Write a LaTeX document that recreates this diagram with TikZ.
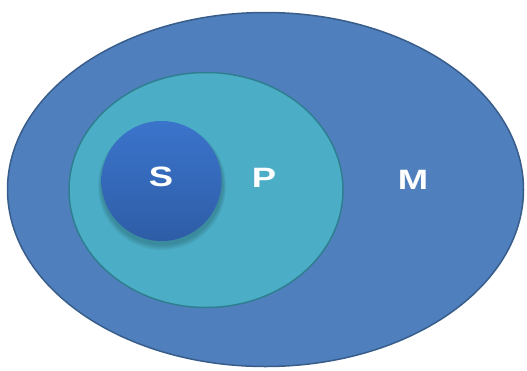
\documentclass[tikz,border=0pt]{standalone}
\usepackage{fontspec}
\setmainfont{Liberation Sans}
\usetikzlibrary{shapes.geometric}
\definecolor{outerfill}{HTML}{4F7FBD}
\definecolor{outerdraw}{HTML}{385D8A}
\definecolor{midfill}{HTML}{4BADC6}
\definecolor{middraw}{HTML}{2F7F90}
\definecolor{stop}{HTML}{3B74CC}
\definecolor{sbot}{HTML}{2E5DA6}
\tikzset{
  lbl/.style={text=white, font=\bfseries\fontsize{28}{28}\selectfont, xscale=1.3, inner sep=0pt},
  shad/.style={fill=black, opacity=0.05},
}
\begin{document}
\begin{tikzpicture}[x=1pt,y=-1pt]
\useasboundingbox[fill=white] (0,0) rectangle (527,370);
\node[ellipse, minimum width=516pt, minimum height=354pt, fill=outerfill, draw=outerdraw, line width=1.5pt, inner sep=0pt] (M) at (265.5,189.5) {};
\node[ellipse, minimum width=274pt, minimum height=235pt, fill=midfill, draw=middraw, line width=1.5pt, inner sep=0pt] (P) at (206,190) {};
\foreach \r/\dy in {64/5, 63/4.5, 62/4, 61/3.5} {
  \fill[shad] (162,181+\dy) circle (\r);
}
\node[circle, minimum size=120pt, inner sep=0pt, top color=stop, bottom color=sbot] (S) at (161.5,181) {};
\node[lbl] (Sl) at (161,176.5) {S};
\node[lbl] (Pl) at (264,178) {P};
\node[lbl] (Ml) at (413,180) {M};
\end{tikzpicture}
\end{document}
